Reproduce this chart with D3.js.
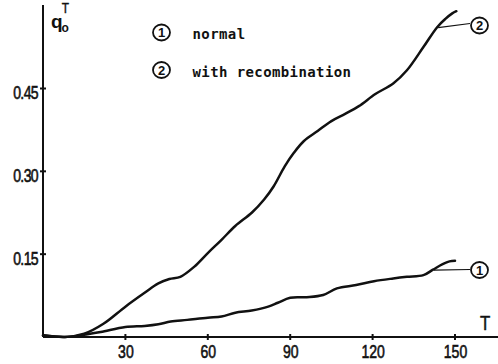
<!DOCTYPE html>
<html>
<head>
<meta charset="utf-8">
<script src="https://cdn.jsdelivr.net/npm/d3@7"></script>
<style>
  html, body { margin: 0; padding: 0; background: #fff; }
  svg { display: block; }
</style>
</head>
<body>
<svg id="chart" width="498" height="364"></svg>
<script>
// Time axis ticks and the fraction ticks on the vertical axis
const tTicks = [30, 60, 90, 120, 150];
const qTicks = [0.15, 0.30, 0.45];
const qTickLabels = ["0.15", "0.30", "0.45"];

// Curve 1: normal
const normalT = [0, 8, 15, 21, 30, 37, 42, 46.5, 52.5, 60, 65, 70, 76, 82, 85.5, 90, 96, 102, 107, 114, 120.5, 127.5, 132.5, 138.5, 142, 145.5, 148, 150];
const normalQ = [0.003, 0, 0.004, 0.009, 0.018, 0.02, 0.023, 0.028, 0.031, 0.035, 0.037, 0.044, 0.048, 0.055, 0.062, 0.071, 0.072, 0.076, 0.088, 0.094, 0.101, 0.106, 0.109, 0.112, 0.122, 0.132, 0.137, 0.138];

// Curve 2: with recombination
const recombT = [0, 8, 15, 22, 30, 37, 42, 46, 50, 55, 60, 65, 70, 76, 80.5, 84, 88, 91.4, 95, 100, 105, 110, 115, 121, 127.5, 132.5, 138.5, 143.5, 146.5, 149, 150.5];
const recombQ = [0.003, 0, 0.006, 0.024, 0.055, 0.08, 0.097, 0.105, 0.109, 0.127, 0.152, 0.176, 0.201, 0.225, 0.249, 0.273, 0.309, 0.334, 0.355, 0.373, 0.391, 0.404, 0.418, 0.44, 0.459, 0.483, 0.525, 0.561, 0.576, 0.586, 0.59];

const legendNames = ["normal", "with recombination"];
const curveIds = ["1", "2"];

const svg = d3.select("#chart");
const ink = "#111";

const x = d3.scaleLinear().domain([0, 150]).range([43, 455]);
const y = d3.scaleLinear().domain([0, 0.45]).range([337, 88.5]);

const narrow = "Liberation Sans, Arial, sans-serif";

// axes
svg.append("line")
  .attr("x1", x(0)).attr("x2", x(0))
  .attr("y1", 5).attr("y2", y(0))
  .attr("stroke", ink).attr("stroke-width", 2);
svg.append("line")
  .attr("x1", x(0)).attr("x2", 498)
  .attr("y1", y(0)).attr("y2", y(0))
  .attr("stroke", ink).attr("stroke-width", 2);

// x ticks and labels
const xg = svg.append("g");
tTicks.forEach(t => {
  xg.append("line")
    .attr("x1", x(t)).attr("x2", x(t))
    .attr("y1", y(0) - 3).attr("y2", y(0) + 3)
    .attr("stroke", ink).attr("stroke-width", 2);
  xg.append("text")
    .attr("transform", `translate(${x(t) + 0.5},${y(0) + 21}) scale(0.78,1)`)
    .attr("text-anchor", "middle")
    .attr("font-family", narrow)
    .attr("font-size", 18)
    .attr("fill", ink)
    .attr("stroke", ink).attr("stroke-width", 0.6)
    .text(t);
});

// y ticks and labels
const yg = svg.append("g");
qTicks.forEach((q, i) => {
  yg.append("line")
    .attr("x1", x(0) - 3).attr("x2", x(0) + 3)
    .attr("y1", y(q)).attr("y2", y(q))
    .attr("stroke", ink).attr("stroke-width", 2);
  yg.append("text")
    .attr("transform", `translate(${x(0) - 5},${y(q) + 10.5}) scale(0.78,1)`)
    .attr("text-anchor", "end")
    .attr("font-family", narrow)
    .attr("font-size", 18)
    .attr("letter-spacing", -0.8)
    .attr("fill", ink)
    .attr("stroke", ink).attr("stroke-width", 0.6)
    .text(qTickLabels[i]);
});

// axis titles
const qLabel = svg.append("text")
  .attr("font-family", narrow)
  .attr("font-weight", "bold")
  .attr("fill", ink);
qLabel.append("tspan").attr("x", 51).attr("y", 28).attr("font-size", 19).text("q");
qLabel.append("tspan").attr("x", 61.5).attr("y", 31.5).attr("font-size", 12).text("o");
svg.append("text")
  .attr("transform", "translate(65.5,13) scale(0.85,1)")
  .attr("text-anchor", "middle")
  .attr("font-family", narrow)
  .attr("font-size", 14)
  .attr("fill", ink)
  .attr("stroke", ink).attr("stroke-width", 0.4)
  .text("T");
svg.append("text")
  .attr("transform", "translate(485,330) scale(0.8,1)")
  .attr("text-anchor", "middle")
  .attr("font-family", narrow)
  .attr("font-size", 21)
  .attr("fill", ink)
  .attr("stroke", ink).attr("stroke-width", 0.5)
  .text("T");

// curves
const line = d3.line()
  .x(d => x(d[0]))
  .y(d => y(d[1]))
  .curve(d3.curveCatmullRom.alpha(0.5));

const series = [
  d3.zip(normalT, normalQ),
  d3.zip(recombT, recombQ)
];
series.forEach(pts => {
  svg.append("path")
    .attr("d", line(pts))
    .attr("fill", "none")
    .attr("stroke", ink)
    .attr("stroke-width", 2.5)
    .attr("stroke-linecap", "round")
    .attr("stroke-linejoin", "round");
});

// numbered circle marker
function marker(cx, cy, label) {
  svg.append("ellipse")
    .attr("cx", cx).attr("cy", cy)
    .attr("rx", 8.5).attr("ry", 8)
    .attr("fill", "#fff")
    .attr("stroke", ink).attr("stroke-width", 1.8);
  svg.append("text")
    .attr("x", cx).attr("y", cy + 4.5)
    .attr("text-anchor", "middle")
    .attr("font-family", narrow)
    .attr("font-weight", "bold")
    .attr("font-size", 13)
    .attr("fill", ink)
    .text(label);
}

// leader lines to curve ends
const ends = [
  [normalT[normalT.length - 4], normalQ[normalQ.length - 4], 470, 269.5, 479.5, 270],
  [recombT[recombT.length - 4], recombQ[recombQ.length - 4], 470, 23.5, 479.5, 25.5]
];
ends.forEach((e, i) => {
  svg.append("line")
    .attr("x1", x(e[0]) + 1).attr("y1", y(e[1]) + 0.5)
    .attr("x2", e[2]).attr("y2", e[3])
    .attr("stroke", ink).attr("stroke-width", 1.2);
  marker(e[4], e[5], curveIds[i]);
});

// legend
legendNames.forEach((name, i) => {
  const cy = 32.5 + i * 37.5;
  marker(161.5, cy, curveIds[i]);
  svg.append("text")
    .attr("x", 192.5).attr("y", cy + 6.5)
    .attr("font-family", "DejaVu Sans Mono, monospace")
    .attr("font-weight", "bold")
    .attr("font-size", 14)
    .attr("letter-spacing", 0.4)
    .attr("fill", ink)
    .text(name);
});
</script>
</body>
</html>
